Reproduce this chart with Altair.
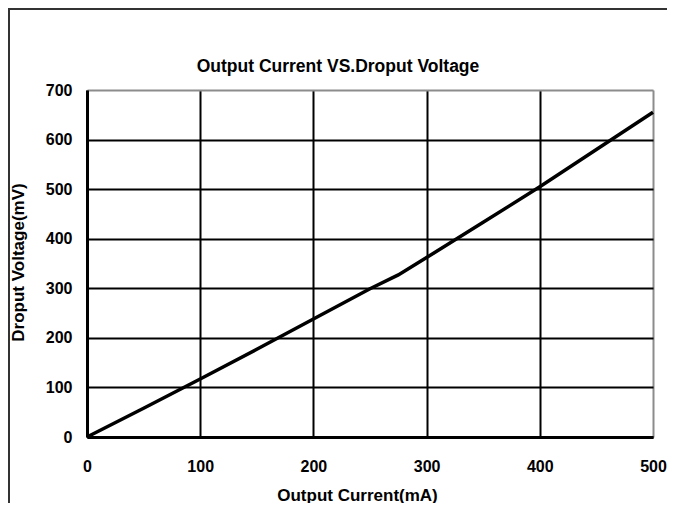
import altair as alt
import pandas as pd

current_ma = [0, 50, 100, 150, 200, 250, 275, 300, 350, 400, 450, 500]
dropout_mv = [0, 58, 117, 177, 238, 299, 327, 362, 433, 505, 580, 655]

x_ticks = [0, 100, 200, 300, 400, 500]
y_ticks = [0, 100, 200, 300, 400, 500, 600, 700]

chart_title = "Output Current VS.Droput Voltage"

df = pd.DataFrame({"I": current_ma, "V": dropout_mv})

FONT = "Liberation Sans"

x_axis = alt.Axis(
    values=x_ticks, title="Output Current(mA)", grid=True,
    gridColor={"condition": {"test": "datum.value == 500", "value": "#8c8c8c"}, "value": "black"},
    gridWidth=2, domainColor="black", domainWidth=3, ticks=False,
    labelFont=FONT, labelFontSize=16, labelFontWeight="bold", labelColor="black",
    labelPadding=21, labelFlush=False,
    titleFont=FONT, titleFontSize=17, titleFontWeight="bold", titleColor="black",
    titleX=270, titleAlign="center", titleY=63, titleBaseline="alphabetic",
)
y_axis = alt.Axis(
    values=y_ticks, title="Droput Voltage(mV)", grid=True,
    gridColor={"condition": {"test": "datum.value == 700", "value": "#8c8c8c"}, "value": "black"},
    gridWidth=2, domainColor="black", domainWidth=3, ticks=False,
    labelFont=FONT, labelFontSize=16, labelFontWeight="bold", labelColor="black",
    labelPadding=15, labelFlush=False,
    titleFont=FONT, titleFontSize=17, titleFontWeight="bold", titleColor="black",
    titleX=-69, titleY=172, titleBaseline="middle", titleAngle=270,
)

line = alt.Chart(df).mark_line(color="black", strokeWidth=3.5).encode(
    x=alt.X("I:Q", scale=alt.Scale(domain=[0, 500], nice=False), axis=x_axis),
    y=alt.Y("V:Q", scale=alt.Scale(domain=[0, 700], nice=False), axis=y_axis),
)

frame = alt.Chart(alt.Data(values=[{"k": 1}])).mark_rect(
    fillOpacity=0, stroke="#333333", strokeWidth=2
).encode(
    x=alt.value(-78), y=alt.value(-81), x2=alt.value(700), y2=alt.value(500)
)

title = alt.Chart(alt.Data(values=[{"t": chart_title}])).mark_text(
    font=FONT, fontSize=17.5, fontWeight="bold", color="black",
    align="center", baseline="alphabetic"
).encode(
    x=alt.value(251), y=alt.value(-18), text="t:N"
)

chart = alt.layer(frame, line, title).properties(
    width=566, height=347,
    autosize=alt.AutoSizeParams(type="none"),
    padding={"left": 79, "top": 82, "right": 14, "bottom": 66},
).configure_view(stroke=None).configure(background="white")

chart.save("out.html", embed_options={"renderer": "svg", "actions": False})
